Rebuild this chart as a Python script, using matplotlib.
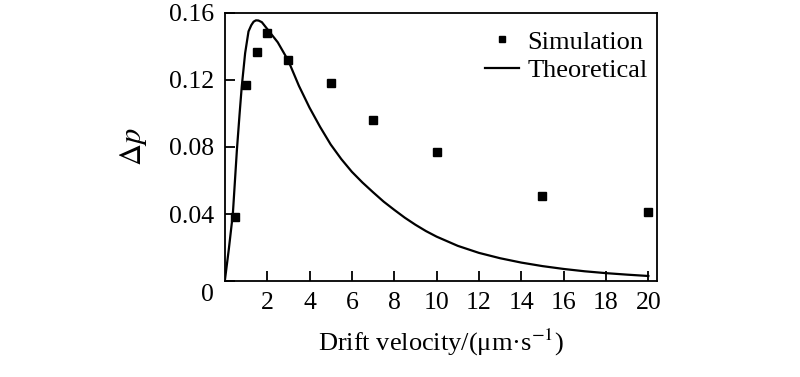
import matplotlib
matplotlib.use("Agg")
import matplotlib.pyplot as plt
import matplotlib.transforms as mtransforms

plt.rcParams['font.family'] = ['Liberation Serif', 'DejaVu Serif']
plt.rcParams['mathtext.fontset'] = 'stix'

# Simulation data
sim_v = [0.5, 1.0, 1.5, 2.0, 3.0, 5.0, 7.0, 10.0, 15.0, 20.0]
sim_dp = [0.038, 0.117, 0.137, 0.148, 0.132, 0.118, 0.096, 0.077, 0.051, 0.041]

# Theoretical curve
theo_v = [0.0, 0.19, 0.38, 0.57, 0.70, 0.80, 0.96, 1.12, 1.25, 1.36, 1.47, 1.59,
          1.75, 2.0, 2.5, 3.0, 3.5, 4.0, 4.5, 5.0, 5.5, 6.0, 6.5, 7.0, 7.5,
          8.0, 8.5, 9.0, 9.5, 10.0, 11.0, 12.0, 13.0, 14.0, 15.0, 16.0, 17.0,
          18.0, 19.0, 20.0]
theo_dp = [0.0, 0.019, 0.040, 0.078, 0.100, 0.116, 0.136, 0.149, 0.1527, 0.1548,
           0.1556, 0.1555, 0.1545, 0.1505, 0.1425, 0.1315, 0.1165, 0.1035,
           0.0920, 0.0815, 0.0728, 0.0652, 0.0588, 0.0530, 0.0474, 0.0425,
           0.0378, 0.0336, 0.0298, 0.0265, 0.0210, 0.0168, 0.0136, 0.0110,
           0.0089, 0.0072, 0.0058, 0.0047, 0.0038, 0.0030]

xticks = [2, 4, 6, 8, 10, 12, 14, 16, 18, 20]
yticks = [0, 0.04, 0.08, 0.12, 0.16]
ytick_labels = ['0', '0.04', '0.08', '0.12', '0.16']

fig = plt.figure(figsize=(8.0, 3.77), dpi=100)
ax = fig.add_axes([0.281, 0.2546, 0.54, 0.711])

ax.plot(sim_v, sim_dp, linestyle='none', marker='s', markersize=6,
        color='black', label='Simulation')
ax.plot(theo_v, theo_dp, color='black', linewidth=1.6, label='Theoretical',
        solid_joinstyle='round')

ax.set_xlim(0, 20.4)
ax.set_ylim(0, 0.16)
ax.set_xticks(xticks)
ax.set_xticklabels([str(t) for t in xticks])
ax.set_yticks(yticks)
ax.set_yticklabels(ytick_labels)

ax.tick_params(direction='in', length=7, width=1.3, labelsize=18.5, pad=8)
for s in ax.spines.values():
    s.set_linewidth(1.3)

# shift the "0" y label down slightly, as in the reference
lbl0 = ax.get_yticklabels()[0]
lbl0.set_transform(lbl0.get_transform() +
                   mtransforms.ScaledTranslation(0, -11 / 100, fig.dpi_scale_trans))

ax.set_xlabel('Drift velocity/(μm·s$^{-1}$)', fontsize=19, labelpad=9)
ax.set_ylabel(r'$\Delta p$', fontsize=22, labelpad=14)

leg = ax.legend(loc='upper right', bbox_to_anchor=(1.0, 0.97), frameon=False,
                fontsize=19, handlelength=1.3, handletextpad=0.3,
                labelspacing=0.2, borderaxespad=0.3, borderpad=0.05,
                markerscale=0.8)

fig.savefig('out.png', dpi=100)
